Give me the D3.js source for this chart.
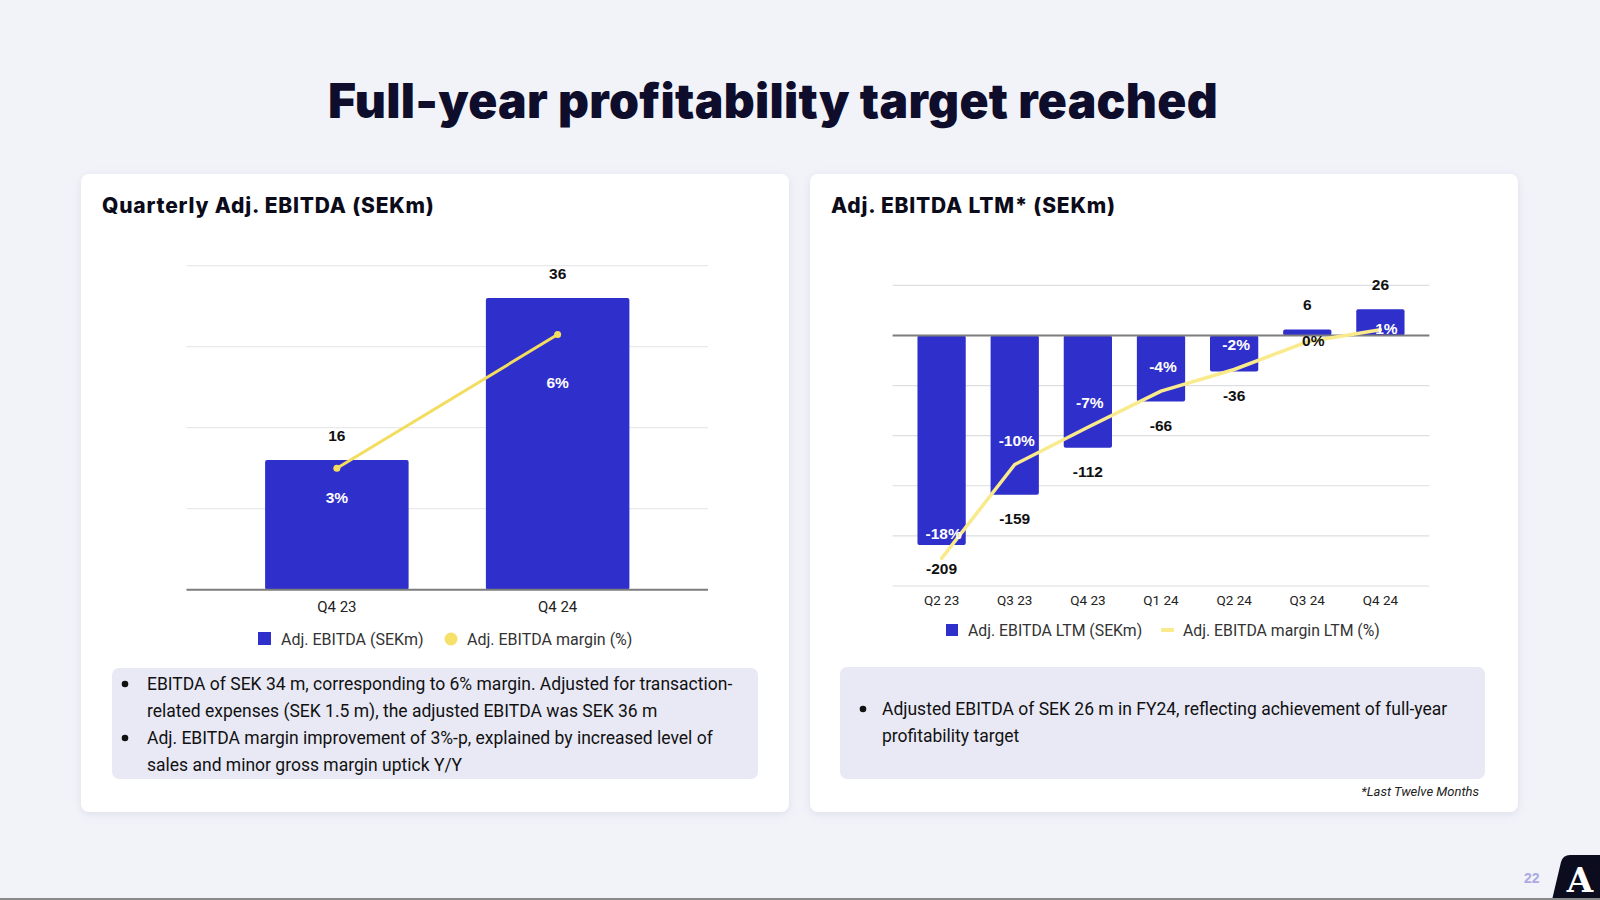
<!DOCTYPE html>
<html>
<head>
<meta charset="utf-8">
<script src="https://cdn.jsdelivr.net/npm/d3@7"></script>
<style>
  html, body { margin: 0; padding: 0; background: #f2f3f9; }
  svg { display: block; }
</style>
</head>
<body>
<svg id="chart" width="1600" height="900"></svg>
<script>
// ---------------- DATA ----------------
const pageTitle = "Full-year profitability target reached";

const qCategories = ["Q4 23", "Q4 24"];
const qEbitda = [16, 36];
const qMargin = [3.0, 6.3];
const qTicks = [0, 10, 20, 30, 40];

const ltmCategories = ["Q2 23", "Q3 23", "Q4 23", "Q1 24", "Q2 24", "Q3 24", "Q4 24"];
const ltmEbitda = [-209, -159, -112, -66, -36, 6, 26];
const ltmMargin = [-17.7, -9.9, -6.8, -3.8, -2.0, 0.3, 1.3];
const ltmTicks = [-250, -200, -150, -100, -50, 0, 50];

const leftLegend = ["Adj. EBITDA (SEKm)", "Adj. EBITDA margin (%)"];
const rightLegend = ["Adj. EBITDA LTM (SEKm)", "Adj. EBITDA margin LTM (%)"];

const leftBullets = [
  ["EBITDA of SEK 34 m, corresponding to 6% margin. Adjusted for transaction-",
   "related expenses (SEK 1.5 m), the adjusted EBITDA was SEK 36 m"],
  ["Adj. EBITDA margin improvement of 3%-p, explained by increased level of",
   "sales and minor gross margin uptick Y/Y"]
];
const rightBullets = [
  ["Adjusted EBITDA of SEK 26 m in FY24, reflecting achievement of full-year",
   "profitability target"]
];

// ---------------- STYLE ----------------
const BLUE = "#2f2fcb";
const GOLD = "#f3dd5e";
const PALE = "#f9ea8c";
const INK = "#0e0d2c";
const FONT = "'Liberation Sans', Arial, sans-serif";
const HEAVY = "Inter, 'Liberation Sans', sans-serif";
const BODY = "Roboto, 'Liberation Sans', sans-serif";

const svg = d3.select("#chart");
const defs = svg.append("defs");
const f = defs.append("filter").attr("id", "shadow").attr("x", "-5%").attr("y", "-5%").attr("width", "110%").attr("height", "115%");
f.append("feDropShadow").attr("dx", 0).attr("dy", 2).attr("stdDeviation", 4).attr("flood-color", "#9aa0c0").attr("flood-opacity", 0.25);

// page title
svg.append("text").attr("x", 773).attr("y", 118).attr("text-anchor", "middle")
  .attr("font-family", HEAVY).attr("font-weight", 900).attr("font-size", 48)
  .attr("letter-spacing", 0.3).attr("fill", INK).text(pageTitle);

// cards
[[81, 174], [810, 174]].forEach(([x, y]) => {
  svg.append("rect").attr("x", x).attr("y", y).attr("width", 708).attr("height", 638)
    .attr("rx", 8).attr("fill", "#ffffff").attr("filter", "url(#shadow)");
});

svg.append("text").attr("x", 102).attr("y", 213).attr("font-family", HEAVY).attr("font-weight", 800)
  .attr("font-size", 21).attr("letter-spacing", 0.8).attr("fill", "#0b0b1a").text("Quarterly Adj. EBITDA (SEKm)");
svg.append("text").attr("x", 831).attr("y", 213).attr("font-family", HEAVY).attr("font-weight", 800)
  .attr("font-size", 21).attr("letter-spacing", 0.8).attr("fill", "#0b0b1a").text("Adj. EBITDA LTM* (SEKm)");

// ---------------- LEFT CHART ----------------
{
  const g = svg.append("g");
  const x = d3.scaleBand().domain(qCategories).range([186.5, 708]).paddingInner(0.35).paddingOuter(0.356);
  const y = d3.scaleLinear().domain([0, 40]).range([589.7, 265.7]);
  const y2 = d3.scaleLinear().domain([0, 8]).range([589.7, 265.7]);

  g.selectAll(".grid").data(qTicks.filter(t => t !== 0)).join("line")
    .attr("x1", 186.5).attr("x2", 708).attr("y1", d => y(d)).attr("y2", d => y(d))
    .attr("stroke", "#e9e9ec").attr("stroke-width", 1.2);

  g.selectAll(".bar").data(qEbitda).join("rect")
    .attr("x", (d, i) => x(qCategories[i])).attr("width", x.bandwidth())
    .attr("y", d => y(d)).attr("height", d => y(0) - y(d))
    .attr("rx", 2).attr("fill", BLUE);

  g.append("line").attr("x1", 186.5).attr("x2", 708).attr("y1", y(0)).attr("y2", y(0))
    .attr("stroke", "#7d7d7d").attr("stroke-width", 2);

  const axis = d3.axisBottom(x).tickSize(0).tickPadding(0);
  const ax = g.append("g").attr("transform", `translate(0,${y(0)})`).call(axis);
  ax.select(".domain").remove();
  ax.selectAll("text").attr("dy", 0).attr("y", 22).attr("font-family", BODY).attr("font-size", 15).attr("fill", "#222");

  g.selectAll(".val").data(qEbitda).join("text")
    .attr("x", (d, i) => x(qCategories[i]) + x.bandwidth() / 2).attr("y", d => y(d) - 19)
    .attr("text-anchor", "middle").attr("font-family", FONT).attr("font-weight", 700).attr("font-size", 15.5)
    .attr("fill", "#111").text(d => d);

  const line = d3.line().x((d, i) => x(qCategories[i]) + x.bandwidth() / 2).y(d => y2(d));
  g.append("path").datum(qMargin).attr("d", line).attr("fill", "none").attr("stroke", GOLD).attr("stroke-width", 3);
  g.selectAll(".dot").data(qMargin).join("circle")
    .attr("cx", (d, i) => x(qCategories[i]) + x.bandwidth() / 2).attr("cy", d => y2(d)).attr("r", 3.5).attr("fill", GOLD);

  g.selectAll(".mlab").data(qMargin).join("text")
    .attr("x", (d, i) => x(qCategories[i]) + x.bandwidth() / 2)
    .attr("y", (d, i) => y(qEbitda[i] * 0.71) + 5)
    .attr("text-anchor", "middle").attr("font-family", FONT).attr("font-weight", 700).attr("font-size", 15.5)
    .attr("fill", "#ffffff").text(d => Math.round(d) + "%");

  // legend
  const lg = svg.append("g").attr("font-family", BODY).attr("font-size", 16).attr("fill", "#333");
  lg.append("rect").attr("x", 258).attr("y", 632).attr("width", 13).attr("height", 13).attr("fill", BLUE);
  lg.append("text").attr("x", 281).attr("y", 645).text(leftLegend[0]);
  lg.append("circle").attr("cx", 451).attr("cy", 639).attr("r", 6.5).attr("fill", "#f5e06a");
  lg.append("text").attr("x", 467).attr("y", 645).text(leftLegend[1]);
}

// ---------------- RIGHT CHART ----------------
{
  const g = svg.append("g");
  const x = d3.scaleBand().domain(ltmCategories).range([892.6, 1429.4]).padding(0.34);
  const y = d3.scaleLinear().domain([-250, 50]).range([586, 285.3]);
  const y2 = d3.scaleLinear().domain([-20, 5]).range([586, 285.3]);
  const cx = i => x(ltmCategories[i]) + x.bandwidth() / 2;

  g.selectAll(".grid").data(ltmTicks.filter(t => t !== 0)).join("line")
    .attr("x1", 892.6).attr("x2", 1429.4).attr("y1", d => y(d)).attr("y2", d => y(d))
    .attr("stroke", "#dedee2").attr("stroke-width", 1.2);

  g.selectAll(".bar").data(ltmEbitda).join("rect")
    .attr("x", (d, i) => x(ltmCategories[i])).attr("width", x.bandwidth())
    .attr("y", d => Math.min(y(d), y(0))).attr("height", d => Math.abs(y(d) - y(0)))
    .attr("rx", 2).attr("fill", BLUE);

  g.append("line").attr("x1", 892.6).attr("x2", 1429.4).attr("y1", y(0)).attr("y2", y(0))
    .attr("stroke", "#7d7d7d").attr("stroke-width", 2);

  const axis = d3.axisBottom(x).tickSize(0).tickPadding(0);
  const ax = g.append("g").attr("transform", `translate(0,${y(-250)})`).call(axis);
  ax.select(".domain").remove();
  ax.selectAll("text").attr("dy", 0).attr("y", 19).attr("font-family", BODY).attr("font-size", 13.5).attr("fill", "#222");

  g.selectAll(".val").data(ltmEbitda).join("text")
    .attr("x", (d, i) => cx(i)).attr("y", d => d < 0 ? y(d) + 29 : y(d) - 19)
    .attr("text-anchor", "middle").attr("font-family", FONT).attr("font-weight", 700).attr("font-size", 15.5)
    .attr("fill", "#111").text(d => d);

  const line = d3.line().x((d, i) => cx(i)).y(d => y2(d)).curve(d3.curveLinear);
  g.append("path").datum(ltmMargin).attr("d", line).attr("fill", "none").attr("stroke", PALE)
    .attr("stroke-width", 3.5).attr("stroke-linecap", "round").attr("stroke-linejoin", "round");

  g.selectAll(".mlab").data(ltmMargin).join("text")
    .each(function (d, i) {
      const py = y2(d);
      const lx = d < 0 ? cx(i) + 2 : cx(i) + 6;
      const ly = d < 0 ? py - 24 : py - 1;
      const top = Math.min(y(ltmEbitda[i]), y(0)), bot = Math.max(y(ltmEbitda[i]), y(0));
      const inside = ly >= top && ly <= bot;
      d3.select(this).attr("x", lx).attr("y", ly + 5)
        .attr("fill", inside ? "#ffffff" : "#111");
    })
    .attr("text-anchor", "middle").attr("font-family", FONT).attr("font-weight", 700).attr("font-size", 15.5)
    .text(d => Math.round(d) + "%");

  const lg = svg.append("g").attr("font-family", BODY).attr("font-size", 15.8).attr("fill", "#333");
  lg.append("rect").attr("x", 946).attr("y", 624).attr("width", 12).attr("height", 12).attr("fill", BLUE);
  lg.append("text").attr("x", 968).attr("y", 636).text(rightLegend[0]);
  lg.append("rect").attr("x", 1161).attr("y", 628).attr("width", 13).attr("height", 4).attr("rx", 1).attr("fill", PALE);
  lg.append("text").attr("x", 1183).attr("y", 636).text(rightLegend[1]);
}

// ---------------- TEXT BOXES ----------------
function textBox(x0, y0, w, h, bullets, bulletX, textX, firstBaseline) {
  svg.append("rect").attr("x", x0).attr("y", y0).attr("width", w).attr("height", h).attr("rx", 7).attr("fill", "#e9e9f6");
  let yy = firstBaseline;
  bullets.forEach(lines => {
    svg.append("circle").attr("cx", bulletX).attr("cy", yy - 6).attr("r", 3.3).attr("fill", "#111");
    lines.forEach(t => {
      svg.append("text").attr("x", textX).attr("y", yy).attr("font-family", BODY).attr("font-size", 17.5)
        .attr("fill", "#111").text(t);
      yy += 27;
    });
  });
}
textBox(112, 668, 646, 111, leftBullets, 125, 147, 690);
textBox(840, 667, 645, 112, rightBullets, 863, 882, 715);

svg.append("text").attr("x", 1479).attr("y", 796).attr("text-anchor", "end").attr("font-family", BODY)
  .attr("font-style", "italic").attr("font-size", 13).attr("fill", "#222").text("*Last Twelve Months");

// page number & logo
svg.append("text").attr("x", 1524).attr("y", 883).attr("font-family", FONT).attr("font-weight", 700)
  .attr("font-size", 14).attr("fill", "#aaa9e2").text("22");
svg.append("path").attr("d", "M1552,900 L1561,862 Q1563,855 1570,855 L1600,855 L1600,900 Z").attr("fill", "#0b0c1e");
svg.append("text").attr("x", 1580).attr("y", 892).attr("text-anchor", "middle").attr("font-family", "'DejaVu Serif', serif")
  .attr("font-weight", 700).attr("font-size", 34).attr("fill", "#ffffff").text("A");
svg.append("rect").attr("x", 0).attr("y", 898).attr("width", 1600).attr("height", 2).attr("fill", "#8a8a8a");
</script>
</body>
</html>
